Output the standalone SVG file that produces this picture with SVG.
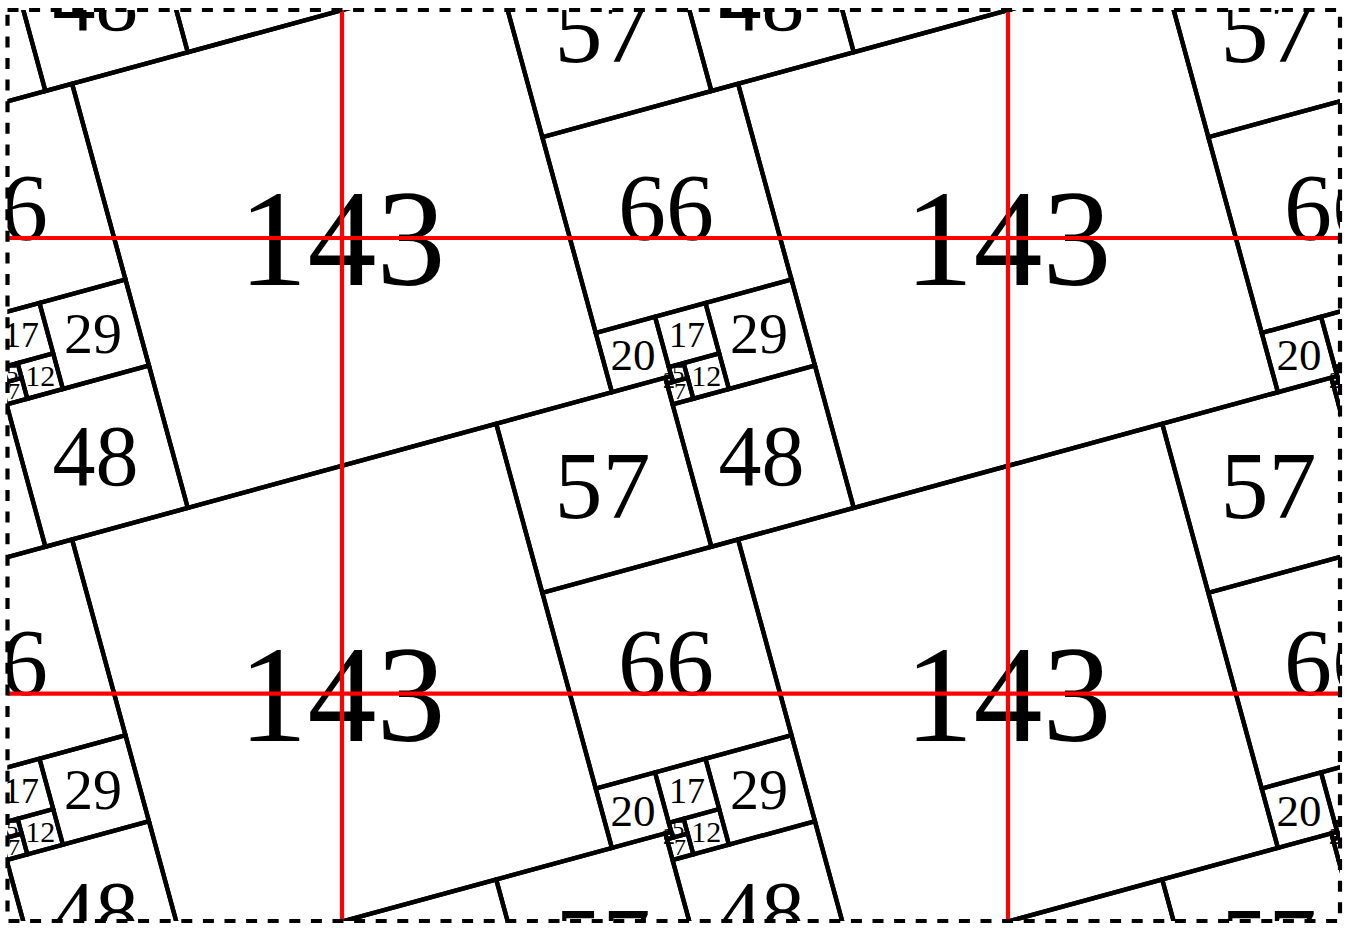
<svg xmlns="http://www.w3.org/2000/svg" xmlns:xlink="http://www.w3.org/1999/xlink" width="1352" height="928" viewBox="0 0 1352 928">
<style>
.sq rect{fill:none;stroke:#000;stroke-width:1.42}
.lb text{font-family:"Liberation Serif","Times New Roman",serif;text-anchor:middle;fill:#000}
.red{stroke:#ff0000;stroke-width:4.2;fill:none}
</style>
<defs>
<clipPath id="frame"><rect x="7.5" y="10" width="1332.5" height="911"/></clipPath>
<g id="cell" class="sq" transform="translate(342 238) rotate(-15.2551) scale(3.0743) translate(-71.5 -71.5)">
<rect x="0" y="0" width="143" height="143"/>
<rect x="143" y="0" width="57" height="57"/>
<rect x="143" y="57" width="66" height="66"/>
<rect x="143" y="123" width="20" height="20"/>
<rect x="163" y="123" width="17" height="17"/>
<rect x="180" y="123" width="29" height="29"/>
<rect x="168" y="140" width="12" height="12"/>
<rect x="163" y="140" width="5" height="5"/>
<rect x="161" y="143" width="2" height="2"/>
<rect x="161" y="145" width="7" height="7"/>
<rect x="161" y="152" width="48" height="48"/>
</g>
</defs>
<rect x="0" y="0" width="1352" height="928" fill="#fff"/>
<g id="tiles" clip-path="url(#frame)">
<use xlink:href="#cell" x="-666" y="-455.68"/>
<use xlink:href="#cell" x="0" y="-455.68"/>
<use xlink:href="#cell" x="666" y="-455.68"/>
<use xlink:href="#cell" x="-666" y="0"/>
<use xlink:href="#cell" x="0" y="0"/>
<use xlink:href="#cell" x="666" y="0"/>
<use xlink:href="#cell" x="-666" y="455.68"/>
<use xlink:href="#cell" x="0" y="455.68"/>
<use xlink:href="#cell" x="666" y="455.68"/>
<use xlink:href="#cell" x="-666" y="911.36"/>
<use xlink:href="#cell" x="0" y="911.36"/>
<use xlink:href="#cell" x="666" y="911.36"/>
</g>
<g id="labels" class="lb" clip-path="url(#frame)">
<g id="l143" font-size="138">
<text x="342" y="284.9">143</text><text x="1008" y="284.9">143</text>
<text x="342" y="740.6">143</text><text x="1008" y="740.6">143</text>
</g>
<g id="l57" font-size="96">
<text x="602.5" y="62.2">57</text><text x="1268.5" y="62.2">57</text>
<text x="602.5" y="517.9">57</text><text x="1268.5" y="517.9">57</text>
<text x="602.5" y="973.6">57</text><text x="1268.5" y="973.6">57</text>
</g>
<g id="l66" font-size="96">
<text x="0" y="239.5">66</text><text x="666" y="239.5">66</text><text x="1332" y="239.5">66</text>
<text x="0" y="695.2">66</text><text x="666" y="695.2">66</text><text x="1332" y="695.2">66</text>
</g>
<g id="l48" font-size="86">
<text x="95.5" y="29.6">48</text><text x="761.5" y="29.6">48</text>
<text x="95.5" y="485.3">48</text><text x="761.5" y="485.3">48</text>
<text x="95.5" y="941">48</text><text x="761.5" y="941">48</text>
</g>
<g id="l29" font-size="58">
<text x="93" y="353">29</text><text x="759" y="353">29</text>
<text x="93" y="808.7">29</text><text x="759" y="808.7">29</text>
</g>
<g id="l20" font-size="45">
<text x="633" y="369.8">20</text><text x="1299" y="369.8">20</text>
<text x="633" y="825.5">20</text><text x="1299" y="825.5">20</text>
</g>
<g id="l17" font-size="36">
<text x="21.1" y="347.3">17</text><text x="687.1" y="347.3">17</text><text x="1353.1" y="347.3">17</text>
<text x="21.1" y="803">17</text><text x="687.1" y="803">17</text><text x="1353.1" y="803">17</text>
</g>
<g id="l12" font-size="30">
<text x="40.3" y="386.3">12</text><text x="706.3" y="386.3">12</text>
<text x="40.3" y="842">12</text><text x="706.3" y="842">12</text>
</g>
<g id="l5" font-size="24">
<text x="12.2" y="380.7">5</text><text x="678.2" y="380.7">5</text><text x="1344.2" y="380.7">5</text>
<text x="12.2" y="836.4">5</text><text x="678.2" y="836.4">5</text><text x="1344.2" y="836.4">5</text>
</g>
<g id="l2" font-size="24">
<text x="3.1" y="388">2</text><text x="669.1" y="388">2</text><text x="1335.1" y="388">2</text>
<text x="3.1" y="843.7">2</text><text x="669.1" y="843.7">2</text><text x="1335.1" y="843.7">2</text>
</g>
<g id="l7" font-size="24">
<text x="14.1" y="399.4">7</text><text x="680.1" y="399.4">7</text><text x="1346.1" y="399.4">7</text>
<text x="14.1" y="855.1">7</text><text x="680.1" y="855.1">7</text><text x="1346.1" y="855.1">7</text>
</g>
</g>
<g id="grid" class="red">
<line x1="342" y1="10" x2="342" y2="921"/>
<line x1="1008" y1="10" x2="1008" y2="921"/>
<line x1="7.5" y1="238" x2="1340" y2="238"/>
<line x1="7.5" y1="693.7" x2="1340" y2="693.7"/>
</g>
<rect id="border" x="7.5" y="10" width="1332.5" height="911" fill="none" stroke="#000" stroke-width="4.2" stroke-dasharray="11 10.6"/>
</svg>
